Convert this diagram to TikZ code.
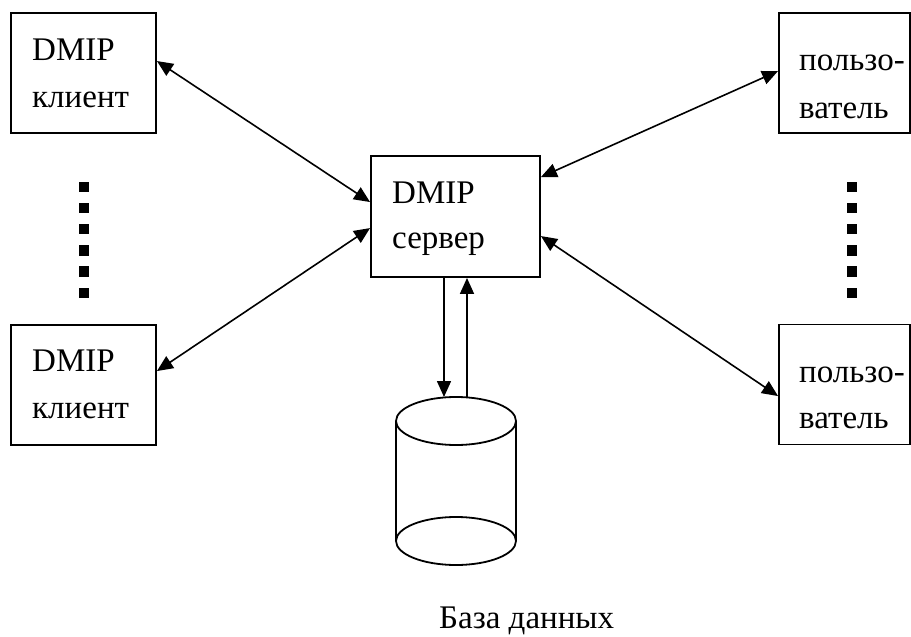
\documentclass[tikz,border=0pt]{standalone}
\usepackage{fontspec}
\setmainfont{Liberation Serif}
\usetikzlibrary{arrows.meta,calc}
\begin{document}
\begin{tikzpicture}[x=1pt,y=-1pt,
  box/.style={draw,line width=1.9pt,inner sep=0pt,minimum width=#1,minimum height=120pt},
  lbl/.style={anchor=base west,inner sep=0pt,font=\fontsize{33}{39}\selectfont},
  link/.style={line width=1.6pt,{Triangle[length=16pt,width=14pt]}-{Triangle[length=16pt,width=14pt]}},
  one/.style={line width=1.6pt,-{Triangle[length=16pt,width=14pt]}}]
\useasboundingbox (0,0) rectangle (911,637);
% boxes
\node[box=145pt] (tl) at (83.5,73) {};
\node[box=145pt] (bl) at (83.5,385) {};
\node[box=131pt] (tr) at (844.5,73) {};
\node[box=131pt] (br) at (844.5,384.5) {};
\node[box=169pt,minimum height=121pt] (srv) at (455.5,216.5) {};
% texts
\node[lbl] (tl1) at (32,60) {DMIP};
\node[lbl] (tl2) at (32,107) {клиент};
\node[lbl] (bl1) at (32,371) {DMIP};
\node[lbl] (bl2) at (32,418) {клиент};
\node[lbl] (tr1) at (799,70) {пользо-};
\node[lbl] (tr2) at (799,118) {ватель};
\node[lbl] (br1) at (799,382) {пользо-};
\node[lbl] (br2) at (799,428) {ватель};
\node[lbl] (s1) at (392,203) {DMIP};
\node[lbl] (s2) at (392,248) {сервер};
\node[lbl] (db) at (439,628) {База данных};
% connection points
\coordinate (ptl) at ($(tl.north east)+(0,49)$);
\coordinate (pbl) at ($(bl.north east)+(0,47)$);
\coordinate (ptr) at ($(tr.north west)+(0,59)$);
\coordinate (pbr) at ($(br.north west)+(0,72.5)$);
\coordinate (s_l1) at ($(srv.north west)+(0,47)$);
\coordinate (s_l2) at ($(srv.north west)+(0,73)$);
\coordinate (s_r1) at ($(srv.north east)+(0,22)$);
\coordinate (s_r2) at ($(srv.north east)+(0,81)$);
\draw[link] (ptl) -- (s_l1);
\draw[link] (pbl) -- (s_l2);
\draw[link] (ptr) -- (s_r1);
\draw[link] (pbr) -- (s_r2);
% cylinder
\coordinate (cyt) at (456,421);
\coordinate (cyb) at (456,541);
\draw[line width=1.8pt] (cyt) ellipse [x radius=60pt,y radius=24pt];
\draw[line width=1.8pt] (cyb) ellipse [x radius=60pt,y radius=24pt];
\draw[line width=1.8pt] ($(cyt)+(-60,0)$) -- ($(cyb)+(-60,0)$);
\draw[line width=1.8pt] ($(cyt)+(60,0)$) -- ($(cyb)+(60,0)$);
\coordinate (dtop) at ($(cyt)+(-12,-24)$);
\coordinate (utop) at ($(cyt)+(11,-24)$);
\draw[one] (srv.south -| dtop) -- (dtop);
\draw[one] (utop) -- (srv.south -| utop);
% dots
\foreach \i in {0,...,5} {
  \fill ($(78.5,181.5)+(0,21.2*\i)$) rectangle ++(10.5,10.5);
  \fill ($(846.5,181.5)+(0,21.2*\i)$) rectangle ++(10.5,10.5);
}
\end{tikzpicture}
\end{document}
